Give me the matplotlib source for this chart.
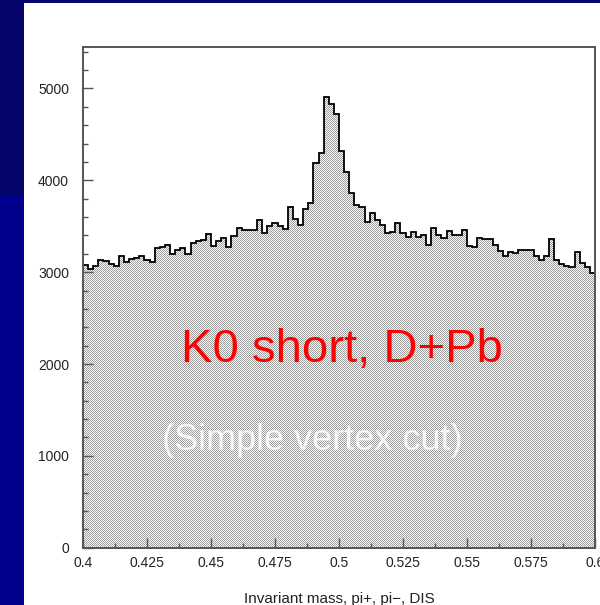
import numpy as np
import matplotlib
matplotlib.use('Agg')
import matplotlib.pyplot as plt
from matplotlib.patches import Rectangle
from matplotlib.ticker import MultipleLocator, FuncFormatter

plt.rcParams['font.family'] = ['Liberation Sans', 'DejaVu Sans']

# invariant mass histogram, 100 bins between 0.4 and 0.6
mass_lo = 0.4
mass_hi = 0.6
n_bins = 100
counts = [
    3075, 3036, 3064, 3130, 3119, 3091, 3072, 3173, 3108, 3145,
    3156, 3173, 3137, 3108, 3265, 3276, 3301, 3200, 3236, 3265,
    3200, 3320, 3337, 3348, 3418, 3282, 3337, 3374, 3276, 3392,
    3483, 3454, 3454, 3454, 3563, 3429, 3501, 3538, 3501, 3472,
    3708, 3581, 3519, 3690, 3748, 4184, 4301, 4907, 4835, 4719,
    4318, 4094, 3865, 3730, 3708, 3544, 3639, 3563, 3519, 3429,
    3439, 3538, 3429, 3381, 3435, 3381, 3402, 3301, 3483, 3410,
    3374, 3446, 3410, 3410, 3457, 3282, 3272, 3374, 3356, 3366,
    3301, 3228, 3173, 3217, 3210, 3246, 3236, 3246, 3173, 3137,
    3173, 3356, 3137, 3094, 3072, 3053, 3217, 3101, 3058, 2992,
]
y_max = 5455

title = 'K0 short, D+Pb'
subtitle = '(Simple vertex cut)'
xlabel = 'Invariant mass, pi+, pi\u2212, DIS'

W, H = 600, 605
fig = plt.figure(figsize=(W / 100, H / 100), dpi=100, facecolor='white')

# slide decoration: blue bands on the left and top
fig.add_artist(Rectangle((0, 0), 24 / W, 1, transform=fig.transFigure,
                         color='#00008c', lw=0, zorder=-5))
fig.add_artist(Rectangle((0, 410 / H), 24 / W, 1, transform=fig.transFigure,
                         color='#06066a', lw=0, zorder=-4))
fig.add_artist(Rectangle((0, 1 - 3 / H), 1, 3 / H, transform=fig.transFigure,
                         color='#06066a', lw=0, zorder=-4))

ax = fig.add_axes([83 / W, 57.3 / H, 512 / W, 501 / H])
ax.set_facecolor('none')

edges = np.linspace(mass_lo, mass_hi, n_bins + 1)

# invisible filled shape used to clip the stipple pattern
shape = ax.stairs(counts, edges, baseline=0, fill=True, visible=False)
ax.stairs(counts, edges, baseline=None, color='black', lw=1.3, zorder=3)

# stipple pattern drawn pixel by pixel at figure level
yy, xx = np.mgrid[0:H, 0:W]
pat = np.where((xx + yy) % 2 == 0, 0.62, 0.98)
pat = np.dstack([pat, pat, pat])
im = fig.figimage(pat, xo=0, yo=0, origin='upper', zorder=-1)
im.set_clip_path(shape)

ax.set_xlim(mass_lo, mass_hi)
ax.set_ylim(0, y_max)

ax.xaxis.set_major_locator(MultipleLocator(0.025))
ax.xaxis.set_minor_locator(MultipleLocator(0.0125))
ax.yaxis.set_major_locator(MultipleLocator(1000))
ax.yaxis.set_minor_locator(MultipleLocator(200))
ax.xaxis.set_major_formatter(FuncFormatter(lambda v, p: f'{v:g}'))
ax.yaxis.set_major_formatter(FuncFormatter(lambda v, p: f'{v:g}'))

ax.tick_params(which='both', direction='in', color='#555555', width=1.0,
               top=False, right=False, labelsize=10, labelcolor='#222222')
ax.tick_params(which='major', length=7)
ax.tick_params(which='minor', length=3.5)
ax.tick_params(axis='x', pad=6)
ax.tick_params(axis='y', pad=10)

for s in ax.spines.values():
    s.set_color('#555555')
    s.set_linewidth(1.4)
    s.set_zorder(4)

ax.set_xlabel(xlabel, fontsize=11, color='#222222', labelpad=16)

ax.text(0.1908, 0.3713, title, transform=ax.transAxes, fontsize=34,
        color='#ff0000', va='baseline', ha='left', zorder=5)
ax.text(0.1537, 0.195, subtitle, transform=ax.transAxes, fontsize=26,
        color='#f6f6f6', va='baseline', ha='left', zorder=5)

fig.savefig('out.png', dpi=100)
